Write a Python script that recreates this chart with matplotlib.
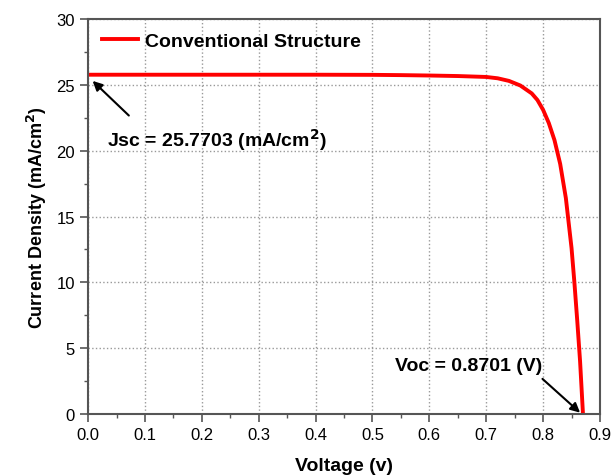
import matplotlib.pyplot as plt
from matplotlib.ticker import MultipleLocator

plt.rcParams['font.family'] = ['Liberation Sans', 'DejaVu Sans']

# J-V curve
voltage = [0.0, 0.1, 0.2, 0.3, 0.4, 0.5, 0.55, 0.6, 0.65, 0.7, 0.72, 0.74, 0.76,
           0.78, 0.79, 0.80, 0.81, 0.82, 0.83, 0.84, 0.85, 0.855, 0.86, 0.865, 0.8701]
current = [25.77, 25.77, 25.77, 25.77, 25.77, 25.76, 25.74, 25.71, 25.67, 25.6, 25.5,
           25.3, 24.95, 24.35, 23.85, 23.1, 22.1, 20.8, 19.0, 16.4, 12.6, 10.0, 7.1, 4.0, 0.0]
series_label = 'Conventional Structure'
jsc_text = 'Jsc = 25.7703 (mA/cm$^\\mathbf{2}$)'
voc_text = 'Voc = 0.8701 (V)'

fig = plt.figure(figsize=(6.16, 4.77), dpi=100)
ax = fig.add_axes([0.143, 0.130, 0.831, 0.828])

ax.plot(voltage, current, color='#ff0000', lw=2.8, label=series_label)

ax.set_xlim(0, 0.9)
ax.set_ylim(0, 30)
ax.xaxis.set_major_locator(MultipleLocator(0.1))
ax.xaxis.set_minor_locator(MultipleLocator(0.05))
ax.yaxis.set_major_locator(MultipleLocator(5))
ax.yaxis.set_minor_locator(MultipleLocator(2.5))
ax.set_xticklabels([f'{v:.1f}' for v in ax.get_xticks()])
ax.tick_params(which='both', direction='out', color='#555555', labelsize=12, top=False, right=False)
ax.tick_params(which='major', length=6, width=1.2)
ax.tick_params(which='minor', length=3, width=1.0)
ax.grid(True, which='major', ls=':', color='#999999', lw=1.0)
for s in ax.spines.values():
    s.set_color('#555555')
    s.set_linewidth(1.5)

ax.set_xlabel('Voltage (v)', fontsize=14, fontweight='bold', labelpad=11)
ax.set_ylabel('Current Density (mA/cm$^\\mathbf{2}$)', fontsize=13, fontweight='bold', labelpad=5)

ax.legend(loc='upper left', frameon=False, prop={'weight': 'bold', 'size': 14},
          handlelength=1.85, handletextpad=0.4, borderaxespad=0.3, bbox_to_anchor=(0.0, 1.0))

ax.annotate(jsc_text, xy=(0.008, 25.3), xytext=(0.033, 20.9), fontsize=14, fontweight='bold',
            va='center', ha='left',
            arrowprops=dict(arrowstyle='-|>', color='black', lw=1.5, mutation_scale=14,
                            shrinkA=0, shrinkB=0, relpos=(0.1, 1.4)))
ax.annotate(voc_text, xy=(0.865, 0.1), xytext=(0.54, 3.7), fontsize=14, fontweight='bold',
            va='center', ha='left',
            arrowprops=dict(arrowstyle='-|>', color='black', lw=1.5, mutation_scale=14,
                            shrinkA=0, shrinkB=0, relpos=(1.0, -0.3)))

fig.savefig('out.png', dpi=100)
